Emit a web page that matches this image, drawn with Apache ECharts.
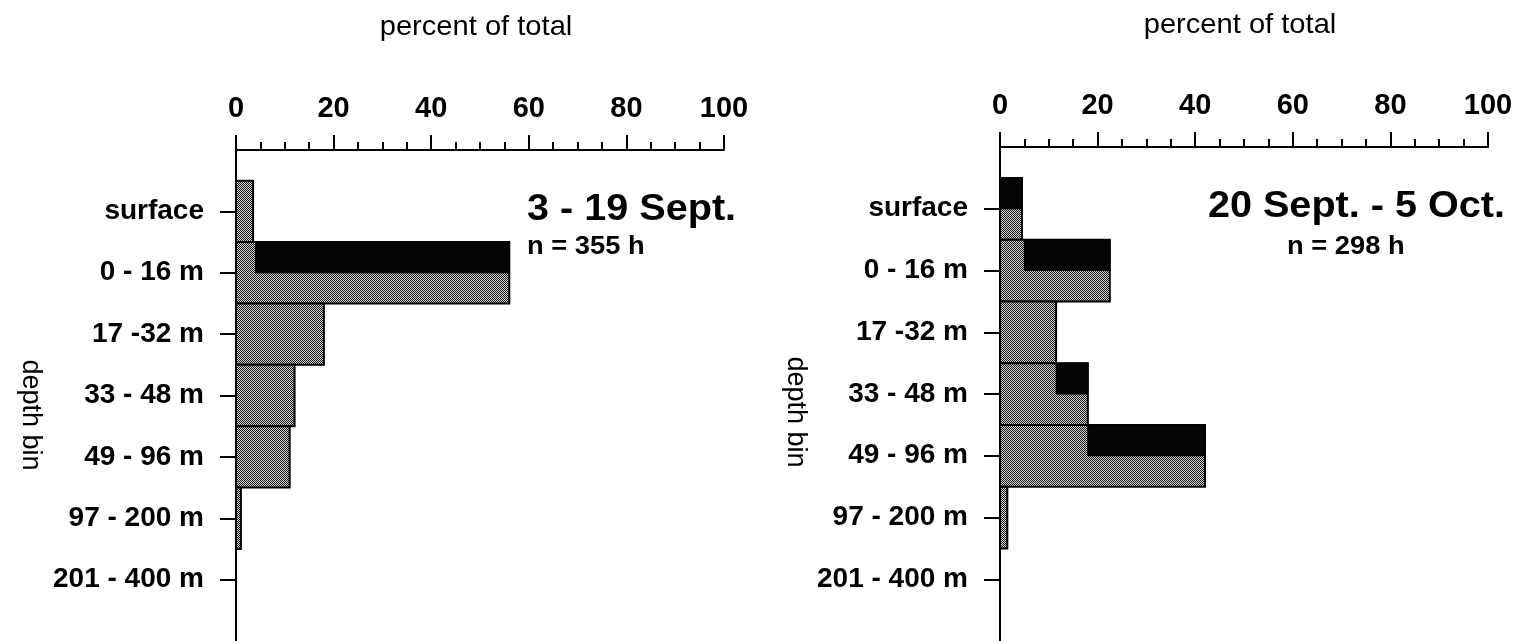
<!DOCTYPE html>
<html>
<head>
<meta charset="utf-8">
<script src="https://cdn.jsdelivr.net/npm/echarts@6.0.0/dist/echarts.min.js"></script>
<style>
  html, body { margin: 0; padding: 0; background: #ffffff; }
  #chart { width: 1520px; height: 641px; }
</style>
</head>
<body>
<div id="chart"></div>
<script>
// Depth bins, top to bottom
const depthBins = ['surface', '0 - 16 m', '17 -32 m', '33 - 48 m', '49 - 96 m', '97 - 200 m', '201 - 400 m'];

// Percent of total time spent in each depth bin
const pctSept3to19 = [3.5, 56, 18, 12, 11, 1, 0];
const pctSept20toOct5 = [4.5, 22.5, 11.5, 18, 42, 1.5, 0];

// Where the dark (upper-half) shading of each bin begins, in percent
const darkFromSept3to19 = [3.5, 4, 56, 18, 12, 11, 1];
const darkFromSept20toOct5 = [0, 5, 22.5, 11.5, 18, 42, 1.5];

// Percent axis ticks
const percentTicks = [0, 20, 40, 60, 80, 100];

const FONT = '"Liberation Sans", Arial, Helvetica, sans-serif';

// Stippled grey fill like a halftone screen
function stipple() {
  const c = document.createElement('canvas');
  c.width = 2; c.height = 2;
  const g = c.getContext('2d');
  g.fillStyle = '#cfcfcf';
  g.fillRect(0, 0, 2, 2);
  g.fillStyle = '#1e1e1e';
  g.fillRect(0, 0, 1, 1);
  g.fillRect(1, 1, 1, 1);
  return c;
}
const stipplePattern = { image: stipple(), repeat: 'repeat' };

// Bin positions on the depth axis: 1..7
const binPositions = depthBins.map((_, i) => i + 1);

// [percent, bin position, start of dark shading]
function histData(values, darkFrom) {
  return values.map((v, i) => [v, i + 1, darkFrom[i]]);
}

// Each bin is a full-height grey block; the part beyond the dark-shading start
// has its upper half drawn in solid black.
function renderBin(params, api) {
  const v = api.value(0);
  const y = api.value(1);
  const from = api.value(2);
  if (!(v > 0)) return null;
  const a = api.coord([0, y - 0.5]);
  const b = api.coord([v, y + 0.5]);
  const children = [{
    type: 'rect',
    shape: { x: a[0], y: a[1], width: b[0] - a[0], height: b[1] - a[1] },
    style: { fill: stipplePattern, stroke: '#000', lineWidth: 2 }
  }];
  if (v > from) {
    const c = api.coord([from, y - 0.5]);
    const d = api.coord([v, y]);
    children.push({
      type: 'rect',
      shape: { x: c[0], y: c[1], width: d[0] - c[0], height: d[1] - c[1] },
      style: { fill: '#050505', stroke: '#000', lineWidth: 1 }
    });
  }
  return { type: 'group', children };
}

const axisLineStyle = { color: '#000', width: 2 };

function percentAxis(gridIndex) {
  return {
    gridIndex,
    type: 'value',
    position: 'top',
    min: percentTicks[0],
    max: percentTicks[percentTicks.length - 1],
    interval: percentTicks[1] - percentTicks[0],
    axisLine: { show: true, onZero: false, lineStyle: axisLineStyle },
    axisTick: { show: true, length: 15, lineStyle: axisLineStyle },
    minorTick: { show: true, splitNumber: 4, length: 8, lineStyle: axisLineStyle },
    axisLabel: { show: true, margin: 27, color: '#000', fontSize: 29, fontWeight: 'bold', fontFamily: FONT },
    splitLine: { show: false },
    minorSplitLine: { show: false }
  };
}

function depthAxis(gridIndex) {
  return {
    gridIndex,
    type: 'value',
    inverse: true,
    min: 0,
    max: 8,
    interval: 1,
    axisLine: { show: true, onZero: false, lineStyle: axisLineStyle },
    axisTick: { show: true, length: 16, customValues: binPositions, lineStyle: axisLineStyle },
    axisLabel: {
      show: true,
      customValues: binPositions,
      formatter: (val) => depthBins[Math.round(val) - 1] || '',
      margin: 32,
      color: '#000',
      fontSize: 28,
      fontWeight: 'bold',
      fontFamily: FONT
    },
    splitLine: { show: false }
  };
}

function textEl(x, y, text, size, weight, align, extra) {
  return Object.assign({
    type: 'text',
    x, y,
    style: {
      text,
      fill: '#000',
      fontSize: size,
      fontWeight: weight,
      fontFamily: FONT,
      align,
      verticalAlign: 'middle'
    }
  }, extra || {});
}

const chart = echarts.init(document.getElementById('chart'), null, { renderer: 'canvas' });

chart.setOption({
  backgroundColor: '#ffffff',
  animation: false,
  grid: [
    { left: 236, top: 150, width: 488, height: 496 },
    { left: 1000, top: 147, width: 488, height: 494 }
  ],
  xAxis: [percentAxis(0), percentAxis(1)],
  yAxis: [depthAxis(0), depthAxis(1)],
  series: [
    {
      type: 'custom',
      xAxisIndex: 0, yAxisIndex: 0,
      renderItem: renderBin,
      encode: { x: 0, y: 1 },
      data: histData(pctSept3to19, darkFromSept3to19),
      clip: false
    },
    {
      type: 'custom',
      xAxisIndex: 1, yAxisIndex: 1,
      renderItem: renderBin,
      encode: { x: 0, y: 1 },
      data: histData(pctSept20toOct5, darkFromSept20toOct5),
      clip: false
    }
  ],
  graphic: [
    textEl(476, 27, 'percent of total', 28, 'normal', 'center', { scaleX: 1.04 }),
    textEl(1240, 25, 'percent of total', 28, 'normal', 'center', { scaleX: 1.04 }),
    textEl(30, 415, 'depth bin', 27, 'normal', 'center', { rotation: -Math.PI / 2 }),
    textEl(795, 412, 'depth bin', 27, 'normal', 'center', { rotation: -Math.PI / 2 }),
    textEl(527, 210, '3 - 19 Sept.', 36, 'bold', 'left', { scaleX: 1.1 }),
    textEl(527, 247, 'n = 355 h', 26, 'bold', 'left', { scaleX: 1.05 }),
    textEl(1505, 207, '20 Sept. - 5 Oct.', 36, 'bold', 'right', { scaleX: 1.1 }),
    textEl(1287, 247, 'n = 298 h', 26, 'bold', 'left', { scaleX: 1.05 })
  ]
});
</script>
</body>
</html>
